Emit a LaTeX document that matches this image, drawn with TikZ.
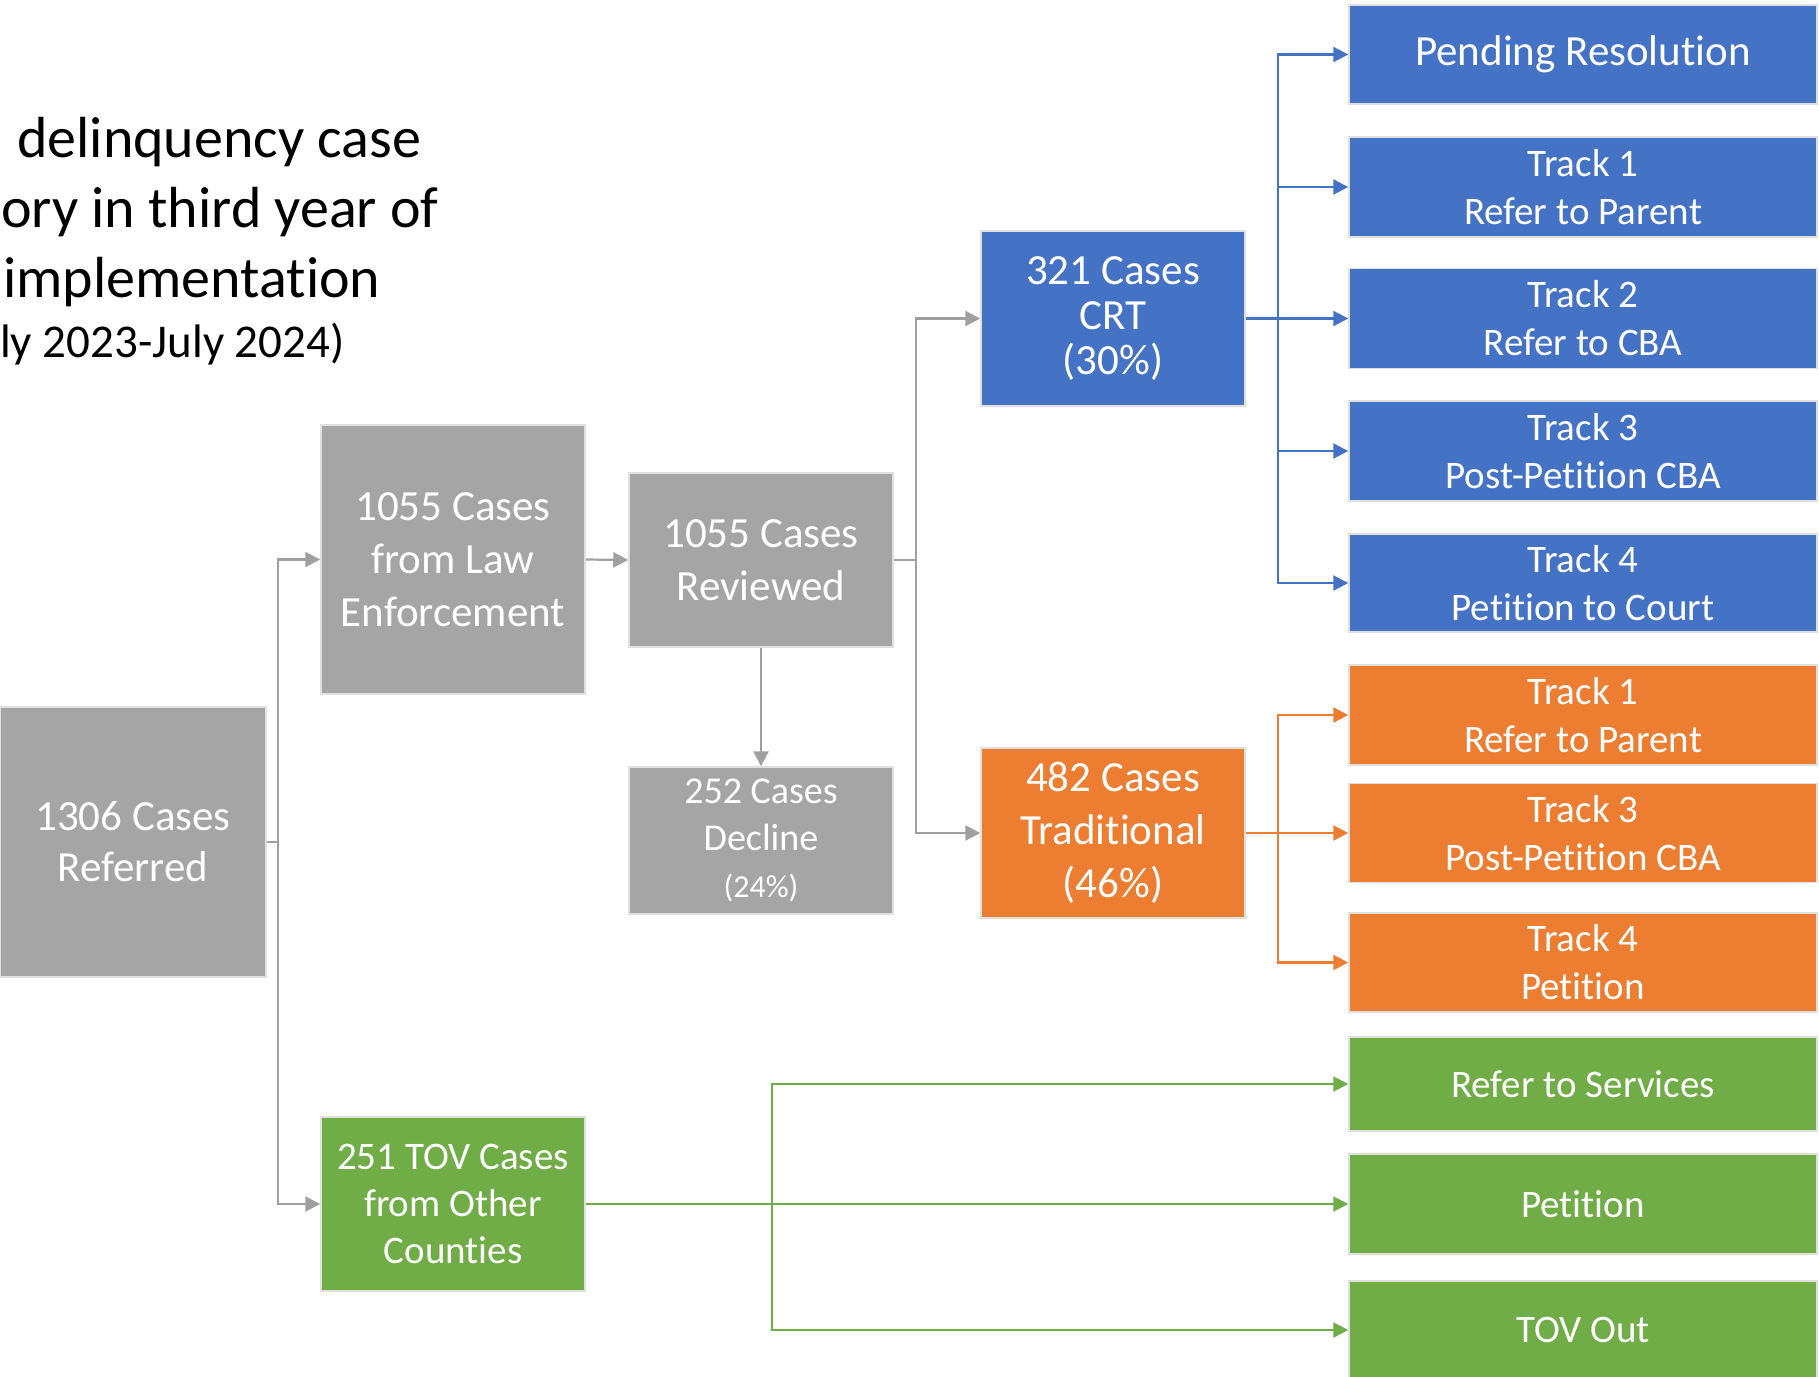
\documentclass[tikz,border=0pt]{standalone}
\usepackage{fontspec}
\setmainfont{Carlito}[Ligatures=NoCommon]
\usetikzlibrary{arrows.meta}
\definecolor{cgray}{HTML}{A5A5A5}
\definecolor{cline}{HTML}{A0A0A0}
\definecolor{cblue}{HTML}{4472C4}
\definecolor{corange}{HTML}{ED7D31}
\definecolor{cgreen}{HTML}{70AD47}
\tikzset{
  box/.style={rectangle, inner sep=0pt, draw=black!12, line width=1.5pt, text=white, align=center},
  graybox/.style={box, fill=cgray},
  bluebox/.style={box, fill=cblue},
  orangebox/.style={box, fill=corange},
  greenbox/.style={box, fill=cgreen},
  big/.style={font=\fontsize{43}{53}\selectfont},
  mid/.style={font=\fontsize{39}{48}\selectfont},
  conn/.style={line width=2.2pt, -{Triangle[length=15pt,width=15pt]}},
  grayconn/.style={conn, draw=cline},
  blueconn/.style={conn, draw=cblue},
  orangeconn/.style={conn, draw=corange},
  greenconn/.style={conn, draw=cgreen},
  title/.style={anchor=base west, inner sep=0pt, font=\fontsize{58}{70}\selectfont},
}
\begin{document}
\begin{tikzpicture}[x=1pt,y=-1pt]
\useasboundingbox (0,0) rectangle (1819,1376);
\fill[white] (0,0) rectangle (1819,1376);
% title
\node[title] (t1) at (17,157) {delinquency case};
\node[title] (t2) at (1,227) {ory in third year of};
\node[title] (t3) at (3,297) {implementation};
\node[title, font=\fontsize{47}{56}\selectfont] (t4) at (0,357) {ly 2023-July 2024)};
% gray boxes
\node[graybox, big, minimum width=266pt, minimum height=270pt, font=\fontsize{43}{51}\selectfont] (ref) at (133,842) {1306 Cases\\Referred};
\node[graybox, big, minimum width=264pt, minimum height=269pt] (law) at (453,559.5) {1055 Cases\\from Law\\Enforcement};
\node[graybox, big, minimum width=264pt, minimum height=174pt] (rev) at (761,560) {1055 Cases\\Reviewed};
\node[graybox, minimum width=264pt, minimum height=147pt, font=\fontsize{38}{47}\selectfont] (dec) at (761,840.5) {252 Cases\\Decline\\{\fontsize{32}{47}\selectfont(24\%)}};
\node[greenbox, mid, minimum width=264pt, minimum height=174pt, font=\fontsize{39}{47}\selectfont] (tov) at (453,1204) {251 TOV Cases\\from Other\\Counties};
\node[bluebox, big, minimum width=264pt, minimum height=175pt, font=\fontsize{43}{45}\selectfont] (crt) at (1113,318.5) {321 Cases\\CRT\\(30\%)};
\node[orangebox, big, minimum width=264pt, minimum height=170pt] (trad) at (1113,833) {482 Cases\\Traditional\\(46\%)};
% right column
\node[bluebox, font=\fontsize{43}{53}\selectfont, minimum width=468pt, minimum height=99pt] (pend) at (1583,54.5) {Pending Resolution};
\node[bluebox, mid, minimum width=468pt, minimum height=100pt] (b1) at (1583,187) {Track 1\\Refer to Parent};
\node[bluebox, mid, minimum width=468pt, minimum height=100pt] (b2) at (1583,318.5) {Track 2\\Refer to CBA};
\node[bluebox, mid, minimum width=468pt, minimum height=100pt] (b3) at (1583,451) {Track 3\\Post-Petition CBA};
\node[bluebox, mid, minimum width=468pt, minimum height=98pt] (b4) at (1583,583) {Track 4\\Petition to Court};
\node[orangebox, mid, minimum width=468pt, minimum height=100pt] (o1) at (1583,715) {Track 1\\Refer to Parent};
\node[orangebox, mid, minimum width=468pt, minimum height=99pt] (o3) at (1583,833) {Track 3\\Post-Petition CBA};
\node[orangebox, mid, minimum width=468pt, minimum height=99pt] (o4) at (1583,962.5) {Track 4\\Petition};
\node[greenbox, mid, minimum width=468pt, minimum height=94pt] (gs) at (1583,1084) {Refer to Services};
\node[greenbox, mid, minimum width=468pt, minimum height=100pt] (gp) at (1583,1204) {Petition};
\node[greenbox, mid, minimum width=468pt, minimum height=98pt] (go) at (1583,1330) {TOV Out};
% connectors
\draw[grayconn] (ref.east) -- ++(11,0) |- (law.west);
\draw[grayconn] (ref.east) -- ++(11,0) |- (tov.west);
\draw[grayconn] (law.east) -- (rev.west);
\draw[grayconn] (rev.south) -- (dec.north);
\draw[grayconn] (rev.east) -- ++(22,0) |- (crt.west);
\draw[grayconn] (rev.east) -- ++(22,0) |- (trad.west);
\foreach \t in {pend,b1,b2,b3,b4}
  \draw[blueconn] (crt.east) -- ++(32,0) |- (\t.west);
\foreach \t in {o1,o3,o4}
  \draw[orangeconn] (trad.east) -- ++(32,0) |- (\t.west);
\foreach \t in {gs,gp,go}
  \draw[greenconn] (tov.east) -- ++(186,0) |- (\t.west);
\end{tikzpicture}
\end{document}
